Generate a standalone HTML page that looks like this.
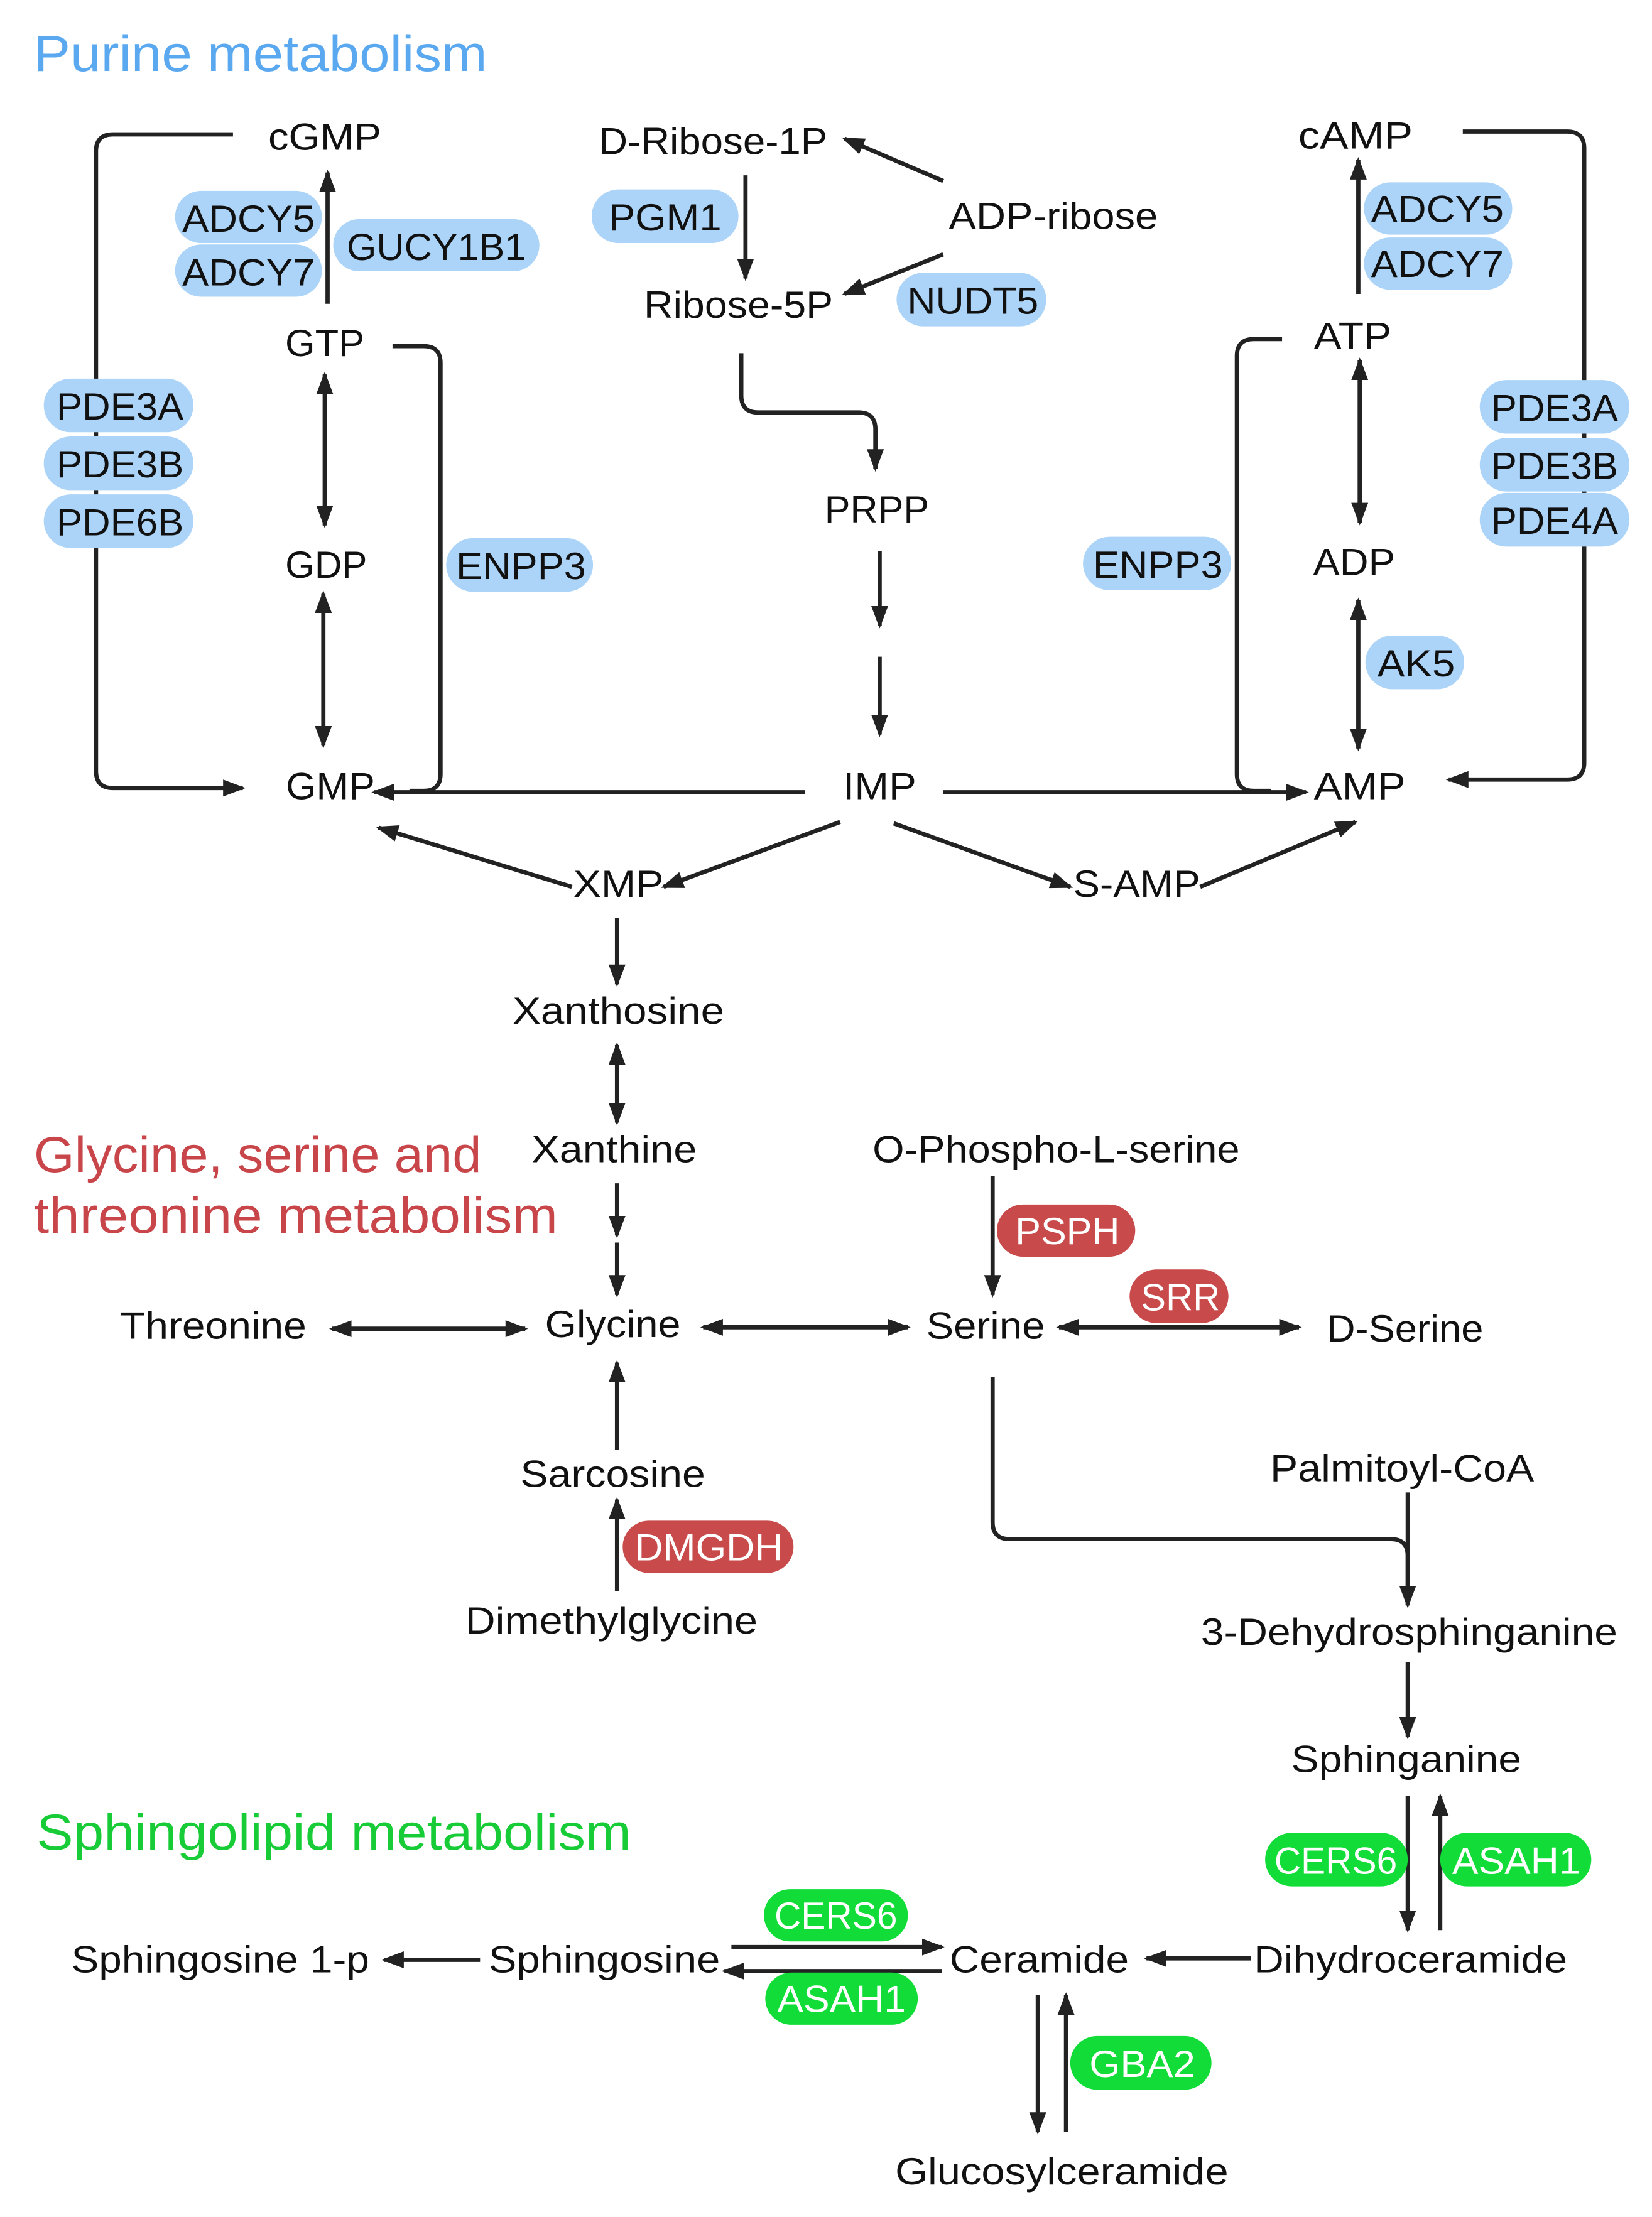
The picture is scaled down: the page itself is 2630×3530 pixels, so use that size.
<!DOCTYPE html>
<html><head><meta charset="utf-8"><style>
html,body{margin:0;padding:0;background:#fff;}
svg{display:block;}
text{font-family:"Liberation Sans",sans-serif;}
</style></head><body>
<svg width="2630" height="3530" viewBox="0 0 1170 1570" xmlns="http://www.w3.org/2000/svg">
<defs>
<marker id="a" markerUnits="userSpaceOnUse" markerWidth="16" markerHeight="14" refX="14" refY="7" orient="auto-start-reverse" viewBox="0 0 16 14"><path d="M0,1 L16,7 L0,13 Z" fill="#222"/></marker>
</defs>
<rect width="1170" height="1570" fill="#fff"/>
<g stroke="#222" stroke-width="3" fill="none">
<path d="M165 95 H80 Q68 95 68 107 V546 Q68 558 80 558 H172" marker-end="url(#a)"/>
<line x1="232" y1="215" x2="232" y2="122" marker-end="url(#a)"/>
<line x1="230" y1="265" x2="230" y2="372" marker-start="url(#a)" marker-end="url(#a)"/>
<line x1="229" y1="420" x2="229" y2="528" marker-start="url(#a)" marker-end="url(#a)"/>
<path d="M278 245 H300 Q312 245 312 257 V548 Q312 560 300 560 H290"/>
<line x1="570" y1="561" x2="265" y2="561" marker-end="url(#a)"/>
<line x1="528" y1="124" x2="528" y2="197" marker-end="url(#a)"/>
<line x1="668" y1="128" x2="598" y2="98" marker-end="url(#a)"/>
<line x1="668" y1="180" x2="598" y2="208" marker-end="url(#a)"/>
<path d="M525 250 V280 Q525 292 537 292 H608 Q620 292 620 304 V332" marker-end="url(#a)"/>
<line x1="623" y1="390" x2="623" y2="443" marker-end="url(#a)"/>
<line x1="623" y1="465" x2="623" y2="520" marker-end="url(#a)"/>
<line x1="668" y1="561" x2="925" y2="561" marker-end="url(#a)"/>
<path d="M908 240 H888 Q876 240 876 252 V548 Q876 560 888 560 H900"/>
<line x1="962" y1="208" x2="962" y2="113" marker-end="url(#a)"/>
<line x1="963" y1="255" x2="963" y2="370" marker-start="url(#a)" marker-end="url(#a)"/>
<line x1="962" y1="425" x2="962" y2="530" marker-start="url(#a)" marker-end="url(#a)"/>
<path d="M1036 93 H1110 Q1122 93 1122 105 V540 Q1122 552 1110 552 H1026" marker-end="url(#a)"/>
<line x1="595" y1="582" x2="470" y2="628" marker-end="url(#a)"/>
<line x1="405" y1="628" x2="268" y2="586" marker-end="url(#a)"/>
<line x1="633" y1="583" x2="758" y2="628" marker-end="url(#a)"/>
<line x1="850" y1="628" x2="960" y2="582" marker-end="url(#a)"/>
<line x1="437" y1="650" x2="437" y2="697" marker-end="url(#a)"/>
<line x1="437" y1="740" x2="437" y2="795" marker-start="url(#a)" marker-end="url(#a)"/>
<line x1="437" y1="838" x2="437" y2="875" marker-end="url(#a)"/>
<line x1="437" y1="880" x2="437" y2="917" marker-end="url(#a)"/>
<line x1="235" y1="941" x2="372" y2="941" marker-start="url(#a)" marker-end="url(#a)"/>
<line x1="498" y1="940" x2="643" y2="940" marker-start="url(#a)" marker-end="url(#a)"/>
<line x1="703" y1="833" x2="703" y2="917" marker-end="url(#a)"/>
<line x1="750" y1="940" x2="920" y2="940" marker-start="url(#a)" marker-end="url(#a)"/>
<line x1="437" y1="1027" x2="437" y2="965" marker-end="url(#a)"/>
<line x1="437" y1="1127" x2="437" y2="1062" marker-end="url(#a)"/>
<path d="M703 975 V1078 Q703 1090 715 1090 H985 Q997 1090 997 1102 V1137" marker-end="url(#a)"/>
<line x1="997" y1="1057" x2="997" y2="1137"/>
<line x1="997" y1="1177" x2="997" y2="1230" marker-end="url(#a)"/>
<line x1="997" y1="1272" x2="997" y2="1367" marker-end="url(#a)"/>
<line x1="1020" y1="1367" x2="1020" y2="1272" marker-end="url(#a)"/>
<line x1="886" y1="1387" x2="812" y2="1387" marker-end="url(#a)"/>
<line x1="518" y1="1379" x2="667" y2="1379" marker-end="url(#a)"/>
<line x1="667" y1="1396" x2="513" y2="1396" marker-end="url(#a)"/>
<line x1="340" y1="1388" x2="272" y2="1388" marker-end="url(#a)"/>
<line x1="735" y1="1413" x2="735" y2="1510" marker-end="url(#a)"/>
<line x1="755" y1="1510" x2="755" y2="1413" marker-end="url(#a)"/>
</g>
<g fill="#acd4f8">
<rect x="124" y="135" width="104" height="37" rx="18.5"/>
<rect x="124" y="173" width="104" height="37" rx="18.5"/>
<rect x="236" y="155" width="146" height="37" rx="18.5"/>
<rect x="419" y="134" width="104" height="38" rx="19"/>
<rect x="635" y="193" width="106" height="38" rx="19"/>
<rect x="966" y="129" width="105" height="37" rx="18.5"/>
<rect x="966" y="168" width="105" height="37" rx="18.5"/>
<rect x="31" y="268" width="106" height="38" rx="19"/>
<rect x="31" y="309" width="106" height="38" rx="19"/>
<rect x="31" y="350" width="106" height="38" rx="19"/>
<rect x="316" y="381" width="104" height="38" rx="19"/>
<rect x="767" y="380" width="105" height="38" rx="19"/>
<rect x="1048" y="269" width="106" height="38" rx="19"/>
<rect x="1048" y="310" width="106" height="38" rx="19"/>
<rect x="1048" y="349" width="106" height="38" rx="19"/>
<rect x="967" y="450" width="70" height="38" rx="19"/>
</g>
<g fill="#c84a4a">
<rect x="706" y="853" width="98" height="37" rx="18.5"/>
<rect x="800" y="899" width="70" height="38" rx="19"/>
<rect x="441" y="1077" width="121" height="37" rx="18.5"/>
</g>
<g fill="#12dd38">
<rect x="896" y="1298" width="101" height="38" rx="19"/>
<rect x="1020" y="1298" width="107" height="38" rx="19"/>
<rect x="541" y="1338" width="102" height="37" rx="18.5"/>
<rect x="542" y="1397" width="108" height="37" rx="18.5"/>
<rect x="758" y="1442" width="100" height="38" rx="19"/>
</g>
<g font-size="27" text-anchor="middle" fill="#111" lengthAdjust="spacingAndGlyphs">
<text x="176" y="164" textLength="94" lengthAdjust="spacingAndGlyphs">ADCY5</text>
<text x="176" y="202" textLength="94" lengthAdjust="spacingAndGlyphs">ADCY7</text>
<text x="309" y="184" textLength="127" lengthAdjust="spacingAndGlyphs">GUCY1B1</text>
<text x="471" y="163" textLength="80" lengthAdjust="spacingAndGlyphs">PGM1</text>
<text x="689" y="222" textLength="93" lengthAdjust="spacingAndGlyphs">NUDT5</text>
<text x="1018" y="157" textLength="94" lengthAdjust="spacingAndGlyphs">ADCY5</text>
<text x="1018" y="196" textLength="94" lengthAdjust="spacingAndGlyphs">ADCY7</text>
<text x="85" y="297" textLength="90" lengthAdjust="spacingAndGlyphs">PDE3A</text>
<text x="85" y="338" textLength="90" lengthAdjust="spacingAndGlyphs">PDE3B</text>
<text x="85" y="379" textLength="90" lengthAdjust="spacingAndGlyphs">PDE6B</text>
<text x="369" y="410" textLength="92" lengthAdjust="spacingAndGlyphs">ENPP3</text>
<text x="820" y="409" textLength="92" lengthAdjust="spacingAndGlyphs">ENPP3</text>
<text x="1101" y="298" textLength="90" lengthAdjust="spacingAndGlyphs">PDE3A</text>
<text x="1101" y="339" textLength="90" lengthAdjust="spacingAndGlyphs">PDE3B</text>
<text x="1101" y="378" textLength="90" lengthAdjust="spacingAndGlyphs">PDE4A</text>
<text x="1003" y="479" textLength="55" lengthAdjust="spacingAndGlyphs">AK5</text>
</g>
<g font-size="27" text-anchor="middle" fill="#fff">
<text x="756" y="881" textLength="74" lengthAdjust="spacingAndGlyphs">PSPH</text>
<text x="836" y="928" textLength="56" lengthAdjust="spacingAndGlyphs">SRR</text>
<text x="502" y="1105" textLength="105" lengthAdjust="spacingAndGlyphs">DMGDH</text>
<text x="946" y="1327" textLength="87" lengthAdjust="spacingAndGlyphs">CERS6</text>
<text x="1074" y="1327" textLength="91" lengthAdjust="spacingAndGlyphs">ASAH1</text>
<text x="592" y="1366" textLength="87" lengthAdjust="spacingAndGlyphs">CERS6</text>
<text x="596" y="1425" textLength="91" lengthAdjust="spacingAndGlyphs">ASAH1</text>
<text x="809" y="1471" textLength="75" lengthAdjust="spacingAndGlyphs">GBA2</text>
</g>
<g font-size="27" text-anchor="middle" fill="#111">
<text x="230" y="106" textLength="80" lengthAdjust="spacingAndGlyphs">cGMP</text>
<text x="505" y="109" textLength="162" lengthAdjust="spacingAndGlyphs">D-Ribose-1P</text>
<text x="746" y="162" textLength="148" lengthAdjust="spacingAndGlyphs">ADP-ribose</text>
<text x="960" y="105" textLength="81" lengthAdjust="spacingAndGlyphs">cAMP</text>
<text x="523" y="225" textLength="134" lengthAdjust="spacingAndGlyphs">Ribose-5P</text>
<text x="230" y="252" textLength="56" lengthAdjust="spacingAndGlyphs">GTP</text>
<text x="958" y="247" textLength="55" lengthAdjust="spacingAndGlyphs">ATP</text>
<text x="621" y="370" textLength="74" lengthAdjust="spacingAndGlyphs">PRPP</text>
<text x="231" y="409" textLength="58" lengthAdjust="spacingAndGlyphs">GDP</text>
<text x="959" y="407" textLength="58" lengthAdjust="spacingAndGlyphs">ADP</text>
<text x="234" y="566" textLength="63" lengthAdjust="spacingAndGlyphs">GMP</text>
<text x="623" y="566" textLength="52" lengthAdjust="spacingAndGlyphs">IMP</text>
<text x="963" y="566" textLength="65" lengthAdjust="spacingAndGlyphs">AMP</text>
<text x="438" y="635" textLength="64" lengthAdjust="spacingAndGlyphs">XMP</text>
<text x="805" y="635" textLength="90" lengthAdjust="spacingAndGlyphs">S-AMP</text>
<text x="438" y="725" textLength="150" lengthAdjust="spacingAndGlyphs">Xanthosine</text>
<text x="435" y="823" textLength="117" lengthAdjust="spacingAndGlyphs">Xanthine</text>
<text x="748" y="823" textLength="260" lengthAdjust="spacingAndGlyphs">O-Phospho-L-serine</text>
<text x="151" y="948" textLength="132" lengthAdjust="spacingAndGlyphs">Threonine</text>
<text x="434" y="947" textLength="96" lengthAdjust="spacingAndGlyphs">Glycine</text>
<text x="698" y="948" textLength="84" lengthAdjust="spacingAndGlyphs">Serine</text>
<text x="995" y="950" textLength="111" lengthAdjust="spacingAndGlyphs">D-Serine</text>
<text x="993" y="1049" textLength="187" lengthAdjust="spacingAndGlyphs">Palmitoyl-CoA</text>
<text x="434" y="1053" textLength="131" lengthAdjust="spacingAndGlyphs">Sarcosine</text>
<text x="433" y="1157" textLength="207" lengthAdjust="spacingAndGlyphs">Dimethylglycine</text>
<text x="998" y="1165" textLength="295" lengthAdjust="spacingAndGlyphs">3-Dehydrosphinganine</text>
<text x="996" y="1255" textLength="163" lengthAdjust="spacingAndGlyphs">Sphinganine</text>
<text x="156" y="1397" textLength="211" lengthAdjust="spacingAndGlyphs">Sphingosine 1-p</text>
<text x="428" y="1397" textLength="164" lengthAdjust="spacingAndGlyphs">Sphingosine</text>
<text x="736" y="1397" textLength="127" lengthAdjust="spacingAndGlyphs">Ceramide</text>
<text x="999" y="1397" textLength="222" lengthAdjust="spacingAndGlyphs">Dihydroceramide</text>
<text x="752" y="1547" textLength="236" lengthAdjust="spacingAndGlyphs">Glucosylceramide</text>
</g>
<g font-size="36">
<text x="24" y="50" fill="#5aa8ef" textLength="321" lengthAdjust="spacingAndGlyphs">Purine metabolism</text>
<text x="24" y="830" fill="#c8454a" textLength="317" lengthAdjust="spacingAndGlyphs">Glycine, serine and</text>
<text x="24" y="873" fill="#c8454a" textLength="371" lengthAdjust="spacingAndGlyphs">threonine metabolism</text>
<text x="26" y="1310" fill="#18cc38" textLength="421" lengthAdjust="spacingAndGlyphs">Sphingolipid metabolism</text>
</g>
</svg>
</body></html>
